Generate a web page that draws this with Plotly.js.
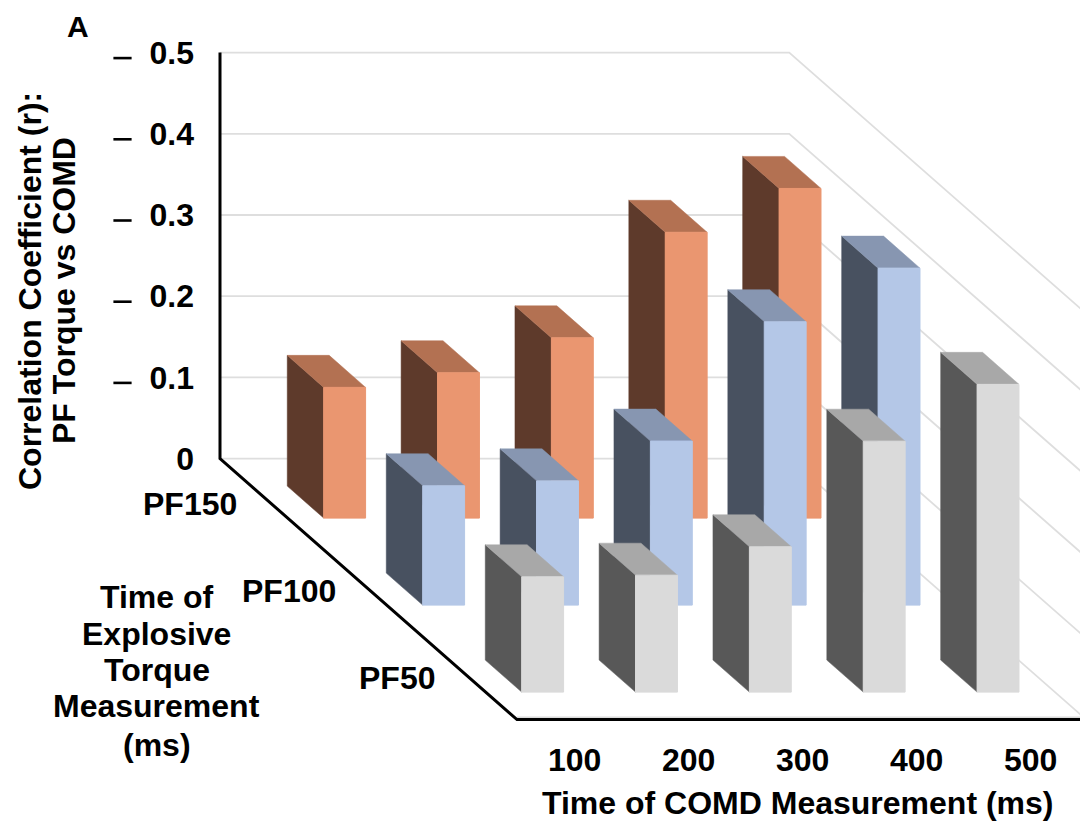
<!DOCTYPE html>
<html><head><meta charset="utf-8">
<script src="https://cdn.plot.ly/plotly-3.0.1.min.js"></script>
<style>html,body{margin:0;padding:0;background:#fff}#c{width:1080px;height:823px}</style>
</head><body><div id="c"></div>
<script>
const categories = ["100","200","300","400","500"];
const rowNames = ["PF150","PF100","PF50"];
const pf150 = [0.161,0.179,0.222,0.352,0.406];
const pf100 = [0.147,0.153,0.202,0.349,0.415];
const pf50  = [0.142,0.144,0.179,0.309,0.379];
const tickValues = [0,0.1,0.2,0.3,0.4,0.5];
const faceColors = ["#EA9670","#B4C7E7","#DADADA"];
const sideColors = ["#5E3A2B","#485160","#585858"];
const topColors  = ["#B37152","#8796B1","#A8A8A8"];

// oblique scene: one x-axis unit is a category step, the y axis is the value scale
const W=1080,H=823,L=220,STEP=113.85,DX=99,DY=87,PXV=812,Y0=458.6;
const prj=(a,d,v)=>[a+d*DX/STEP, v-d*DY/PXV];
const pxX=p=>(p-L)/STEP, pxY=p=>(Y0-p)/PXV;
const HALF=0.184;
const font={family:"Liberation Sans, Arial, sans-serif",size:32,color:"#000"};
const traces=[];
function poly(pts,fill,line,w){
  const q=pts.concat([pts[0]]);
  traces.push({type:"scatter",mode:"lines",x:q.map(p=>p[0]),y:q.map(p=>p[1]),fill:"toself",fillcolor:fill,
    line:{color:line,width:w===undefined?1:w},hoverinfo:"skip",showlegend:false});
}
function line(pts,color,w){
  traces.push({type:"scatter",mode:"lines",x:pts.map(p=>p[0]),y:pts.map(p=>p[1]),line:{color:color,width:w},
    hoverinfo:"skip",showlegend:false});
}
// walls: gridlines
tickValues.forEach(v=>line([prj(0,0,v),prj(5,0,v),prj(5,3,v)],"#DEDEDE",1.8));
line([prj(0,3,0.003),prj(5.6,3,0.003)],"#C8C8C8",1);
// axes
line([prj(0,0,0.5),prj(0,0,0),prj(0,3,0),prj(5.6,3,0)],"#000",3);
// bars, back row first
[pf150,pf100,pf50].forEach((vals,r)=>{
  vals.forEach((v,i)=>{
    const a0=i+0.5-HALF,a1=i+0.5+HALF,d0=r+0.5-HALF,d1=r+0.5+HALF;
    poly([prj(a0,d0,0),prj(a0,d1,0),prj(a0,d1,v),prj(a0,d0,v)],sideColors[r],sideColors[r],0.5);
    poly([prj(a0,d0,v),prj(a1,d0,v),prj(a1,d1,v),prj(a0,d1,v)],topColors[r],topColors[r],0.5);
    poly([prj(a0,d1,0),prj(a1,d1,0),prj(a1,d1,v),prj(a0,d1,v)],faceColors[r],faceColors[r],1);
  });
});
// detached tick dashes
const dashVals=tickValues.slice(1);
traces.push({type:"scatter",mode:"markers",x:dashVals.map(()=>pxX(122.5)),y:dashVals.map(v=>v-5.5/PXV),
  marker:{symbol:"line-ew",size:13,line:{color:"#000",width:2.6}},hoverinfo:"skip",showlegend:false});

const ann=[];
function txt(text,x,y,o){ann.push(Object.assign({text:text,x:x,y:y,xref:"x",yref:"y",showarrow:false,font:font,align:"center",xanchor:"center",yanchor:"middle"},o||{}));}
const B=s=>"<b>"+s+"</b>";
categories.forEach((c,i)=>{const p=prj(i+0.5,3,0);txt(B(c),p[0]+pxX(221)-pxX(220),pxY(760));});
rowNames.forEach((n,r)=>{const p=prj(-0.27,r+0.5,0);txt(B(n),p[0],p[1]+pxY(2)-pxY(0),{xanchor:"right"});});
txt(B("Time of COMD Measurement (ms)"),pxX(798),pxY(803));
txt(B("Correlation Coefficient (r):"),pxX(30),pxY(291),{textangle:-90});
txt(B("PF Torque vs COMD"),pxX(64),pxY(291),{textangle:-90});
const rowTitleLines=["Time of","Explosive","Torque","Measurement","(ms)"];
const rowTitleY=[597,634,670,706,745];
rowTitleLines.forEach((s,k)=>txt(B(s),pxX(156.5),pxY(rowTitleY[k])));
txt(B("A"),pxX(77.5),pxY(26),{font:Object.assign({},font,{size:30})});

Plotly.newPlot("c",traces,{
  width:W,height:H,margin:{l:0,r:0,t:0,b:0,pad:0},showlegend:false,
  paper_bgcolor:"#fff",plot_bgcolor:"rgba(0,0,0,0)",
  xaxis:{range:[pxX(0),pxX(W)],visible:false,fixedrange:true},
  yaxis:{range:[pxY(H),pxY(0)],anchor:"free",position:L/W,tickmode:"array",tickvals:tickValues,ticktext:tickValues.map(v=>B(v===0?"0":v.toFixed(1))),
    showgrid:false,zeroline:false,showline:false,ticks:"",ticklabelstandoff:26,tickfont:font,fixedrange:true},
  annotations:ann
},{displayModeBar:false,staticPlot:true});
</script></body></html>
